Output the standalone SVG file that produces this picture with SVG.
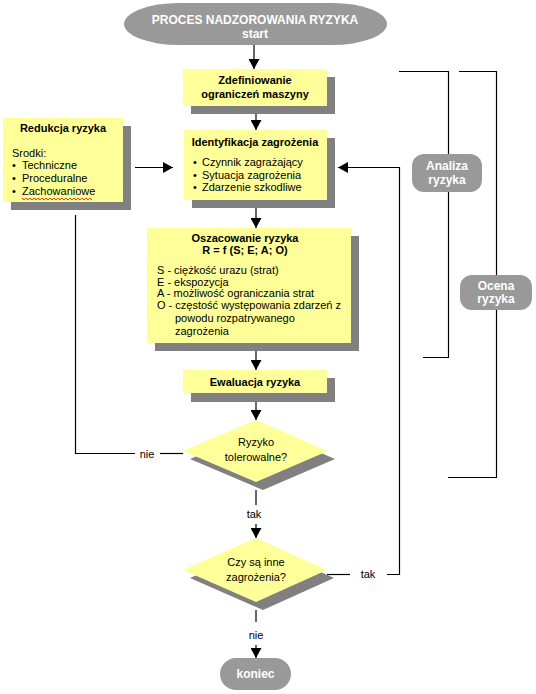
<svg xmlns="http://www.w3.org/2000/svg" width="536" height="694" viewBox="0 0 536 694">
<defs>
<marker id="ah" markerUnits="userSpaceOnUse" markerWidth="11" markerHeight="11" refX="10" refY="5.5" orient="auto">
<path d="M0,0 L10,5.5 L0,11 z" fill="#000"/>
</marker>
<style>
.box{fill:#FFFF99}
.sh{fill:#808080}
.term{fill:#999999}
.t{font-family:"Liberation Sans",Arial,sans-serif;font-size:11px;fill:#000}
.b{font-weight:bold}
.c{text-anchor:middle}
.w{fill:#fff;font-weight:bold;font-size:12px;text-anchor:middle}
.ln{fill:none;stroke:#000;stroke-width:1.2}
.ar{fill:none;stroke:#000;stroke-width:1.2;marker-end:url(#ah)}
</style>
</defs>
<rect width="536" height="694" fill="#fff"/>

<g id="start">
<rect class="term" x="124" y="3" width="263" height="42" rx="55" ry="21"/>
<text class="t w" x="255" y="24">PROCES NADZOROWANIA RYZYKA</text>
<text class="t w" x="255" y="38">start</text>
</g>

<g id="zdefiniowanie">
<rect class="sh" x="191" y="77" width="144" height="37"/>
<rect class="box" x="183" y="69" width="144" height="37"/>
<text class="t b c" x="255" y="84">Zdefiniowanie</text>
<text class="t b c" x="255" y="98">ograniczeń maszyny</text>
</g>

<g id="redukcja">
<rect class="sh" x="11" y="126" width="120" height="84"/>
<rect class="box" x="3" y="118" width="120" height="84"/>
<text class="t b c" x="63" y="132">Redukcja ryzyka</text>
<text class="t" x="12" y="157">Srodki:</text>
<text class="t" x="12" y="169">•</text><text class="t" x="22" y="169">Techniczne</text>
<text class="t" x="12" y="182">•</text><text class="t" x="22" y="182">Proceduralne</text>
<text class="t" x="12" y="195">•</text><text class="t" x="22" y="195">Zachowaniowe</text>
<polyline points="22,198 24,200 26,198 28,200 30,198 32,200 34,198 36,200 38,198 40,200 42,198 44,200 46,198 48,200 50,198 52,200 54,198 56,200 58,198 60,200 62,198 64,200 66,198 68,200 70,198 72,200 74,198 76,200 78,198 80,200 82,198 84,200 86,198 88,200 90,198 92,200" fill="none" stroke="#ff0000" stroke-width="0.8"/>
</g>

<g id="identyfikacja">
<rect class="sh" x="192" y="138" width="143" height="70"/>
<rect class="box" x="184" y="130" width="143" height="70"/>
<text class="t b c" x="255" y="146">Identyfikacja zagrożenia</text>
<text class="t" x="193" y="166">•</text><text class="t" x="202" y="166">Czynnik zagrażający</text>
<text class="t" x="193" y="178.5">•</text><text class="t" x="202" y="178.5">Sytuacja zagrożenia</text>
<text class="t" x="193" y="191">•</text><text class="t" x="202" y="191">Zdarzenie szkodliwe</text>
</g>

<g id="oszacowanie">
<rect class="sh" x="155" y="236" width="204" height="115"/>
<rect class="box" x="147" y="228" width="204" height="115"/>
<text class="t b c" x="245" y="242">Oszacowanie ryzyka</text>
<text class="t b c" x="245" y="254">R = f (S; E; A; O)</text>
<text class="t" x="157" y="274">S - ciężkość urazu (strat)</text>
<text class="t" x="157" y="286">E - ekspozycja</text>
<text class="t" x="157" y="297">A - możliwość ograniczania strat</text>
<text class="t" x="157" y="309">O - częstość występowania zdarzeń z</text>
<text class="t" x="175" y="322">powodu rozpatrywanego</text>
<text class="t" x="175" y="335">zagrożenia</text>
</g>

<g id="ewaluacja">
<rect class="sh" x="191" y="378" width="144" height="24"/>
<rect class="box" x="183" y="370" width="144" height="23"/>
<text class="t b c" x="255" y="386">Ewaluacja ryzyka</text>
</g>

<g id="tolerowalne">
<polygon class="sh" points="263,428 335,459 263,490 190,459"/>
<polygon class="box" points="256,420 328,451 256,482 183,451"/>
<text class="t c" x="256" y="446">Ryzyko</text>
<text class="t c" x="256" y="461">tolerowalne?</text>
</g>

<g id="inne">
<polygon class="sh" points="263,546 334,578 263,610 190,578"/>
<polygon class="box" points="256,538 327,570 256,602 183,570"/>
<text class="t c" x="256" y="566">Czy są inne</text>
<text class="t c" x="256" y="581">zagrożenia?</text>
</g>

<g id="koniec">
<rect class="term" x="220" y="658" width="71" height="32" rx="16"/>
<text class="t w" x="255.5" y="678">koniec</text>
</g>

<g id="analiza">
<rect class="term" x="412" y="154" width="70" height="38" rx="12"/>
<text class="t w" x="447" y="170">Analiza</text>
<text class="t w" x="447" y="184">ryzyka</text>
</g>

<g id="ocena">
<rect class="term" x="460" y="275" width="72" height="35" rx="12"/>
<text class="t w" x="496" y="290">Ocena</text>
<text class="t w" x="496" y="303">ryzyka</text>
</g>

<g id="connectors">
<line class="ar" x1="254" y1="45" x2="254" y2="69"/>
<line class="ar" x1="256" y1="114" x2="256" y2="130"/>
<line class="ar" x1="135" y1="167.5" x2="173" y2="167.5"/>
<line class="ar" x1="256" y1="208" x2="256" y2="228"/>
<line class="ar" x1="256" y1="351" x2="256" y2="370"/>
<line class="ar" x1="256" y1="402" x2="256" y2="420"/>
<line class="ln" x1="256" y1="490" x2="256" y2="505"/>
<text class="t c" x="254" y="518">tak</text>
<line class="ar" x1="256" y1="524" x2="256" y2="538"/>
<polyline class="ln" points="183,453.5 160,453.5"/>
<text class="t c" x="147" y="458">nie</text>
<polyline class="ln" points="135,453.5 75.5,453.5 75.5,215"/>
<polyline class="ln" points="327,574.5 350,574.5"/>
<text class="t c" x="368" y="578">tak</text>
<polyline class="ar" points="387,574.5 399.5,574.5 399.5,167.5 338,167.5"/>
<line class="ln" x1="256" y1="610" x2="256" y2="622"/>
<text class="t c" x="256" y="639">nie</text>
<line class="ar" x1="256" y1="645" x2="256" y2="658"/>
<polyline class="ln" points="399,71.5 448.5,71.5 448.5,154"/>
<polyline class="ln" points="448.5,192 448.5,357.5 423,357.5"/>
<polyline class="ln" points="459,71.5 496.5,71.5 496.5,275"/>
<polyline class="ln" points="496.5,310 496.5,477.5 448,477.5"/>
</g>
</svg>
